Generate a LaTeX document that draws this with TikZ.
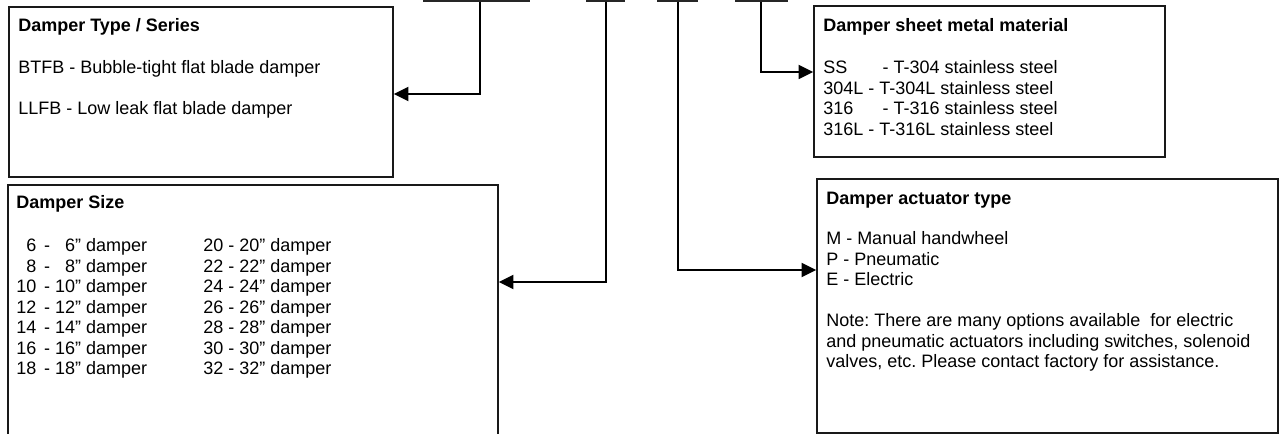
\documentclass[tikz,border=0pt]{standalone}
\usepackage{fontspec}
\setmainfont{Liberation Sans}
\frenchspacing
\usetikzlibrary{arrows.meta,fit}
\tikzset{
  box/.style={draw=black!90, line width=1.2pt, inner sep=0pt},
  code/.style={draw=black!85, fill=gray!40, line width=1pt, inner sep=0pt},
  link/.style={line width=1.4pt, -{Triangle[length=11pt,width=10.5pt]}},
  txt/.style={anchor=base west, inner sep=0pt, font=\fontsize{13.5}{15}\selectfont},
  ttl/.style={txt, font=\fontsize{13.5}{15}\selectfont\bfseries}
}
\begin{document}
\begin{tikzpicture}[x=0.75pt, y=-0.75pt]
\useasboundingbox (0,0) rectangle (1279,434);
\clip (0,0) rectangle (1279,434);
% Casillas del codigo (cortadas arriba)
\node[code, fit={(424,-30) (529,1)}] (c1) {};
\node[code, fit={(587,-30) (624,1)}] (c2) {};
\node[code, fit={(658,-30) (697,1)}] (c3) {};
\node[code, fit={(736,-30) (787,1)}] (c4) {};
% Cajas
\node[box, fit={(9,7) (393,177)}] (type) {};
\node[box, fit={(8,185) (498,460)}] (size) {};
\node[box, fit={(814,6) (1165,157)}] (sheet) {};
\node[box, fit={(817,179) (1278,433)}] (act) {};
% Flechas
\coordinate (k1) at (480,94);
\coordinate (k2) at (606,282);
\coordinate (k3) at (678,270);
\coordinate (k4) at (761,72);
\draw[link] (c1.south -| k1) -- (k1) -- (k1 -| type.east);
\draw[link] (c2.south -| k2) -- (k2) -- (k2 -| size.east);
\draw[link] (c3.south -| k3) -- (k3) -- (k3 -| act.west);
\draw[link] (c4.south -| k4) -- (k4) -- (k4 -| sheet.west);
% Tipo
\node[ttl] (typeT) at (18,32) {Damper Type / Series};
\node[txt] (typeA) at (18,74) {BTFB - Bubble-tight flat blade damper};
\node[txt] (typeB) at (18,115) {LLFB - Low leak flat blade damper};
% Material
\node[ttl] (sheetT) at (823,32) {Damper sheet metal material};
\foreach \a/\d/\w [count=\i from 0] in {SS/T-304/3.3em, 304L/T-304L/2.5em, 316/T-316/3.3em, 316L/T-316L/2.5em}
  \node[txt] (sheet\i) at (823,74+20.5*\i) {\makebox[\w][l]{\a}- \d{} stainless steel};
% Medidas
\node[ttl] (sizeT) at (16,209) {Damper Size};
\foreach \p/\q [count=\i from 0] in {6/20, 8/22, 10/24, 12/26, 14/28, 16/30, 18/32} {
  \node[txt] (sizeL\i) at (16,252+20.5*\i) {\makebox[1.55em][l]{\makebox[1.112em][r]{\p}}- \makebox[1.112em][r]{\p}” damper};
  \node[txt] (sizeR\i) at (203,252+20.5*\i) {\q{} - \q” damper};
}
% Actuador
\node[ttl] (actT) at (826,205) {Damper actuator type};
\foreach \t [count=\i from 0] in {M - Manual handwheel, P - Pneumatic, E - Electric}
  \node[txt] (act\i) at (826,245+20.5*\i) {\t};
\foreach \t [count=\i from 0] in {{Note: There are many options available \ for electric}, {and pneumatic actuators including switches, solenoid}, {valves, etc. Please contact factory for assistance.}}
  \node[txt] (note\i) at (826,327+20.5*\i) {\t};
\end{tikzpicture}
\end{document}
